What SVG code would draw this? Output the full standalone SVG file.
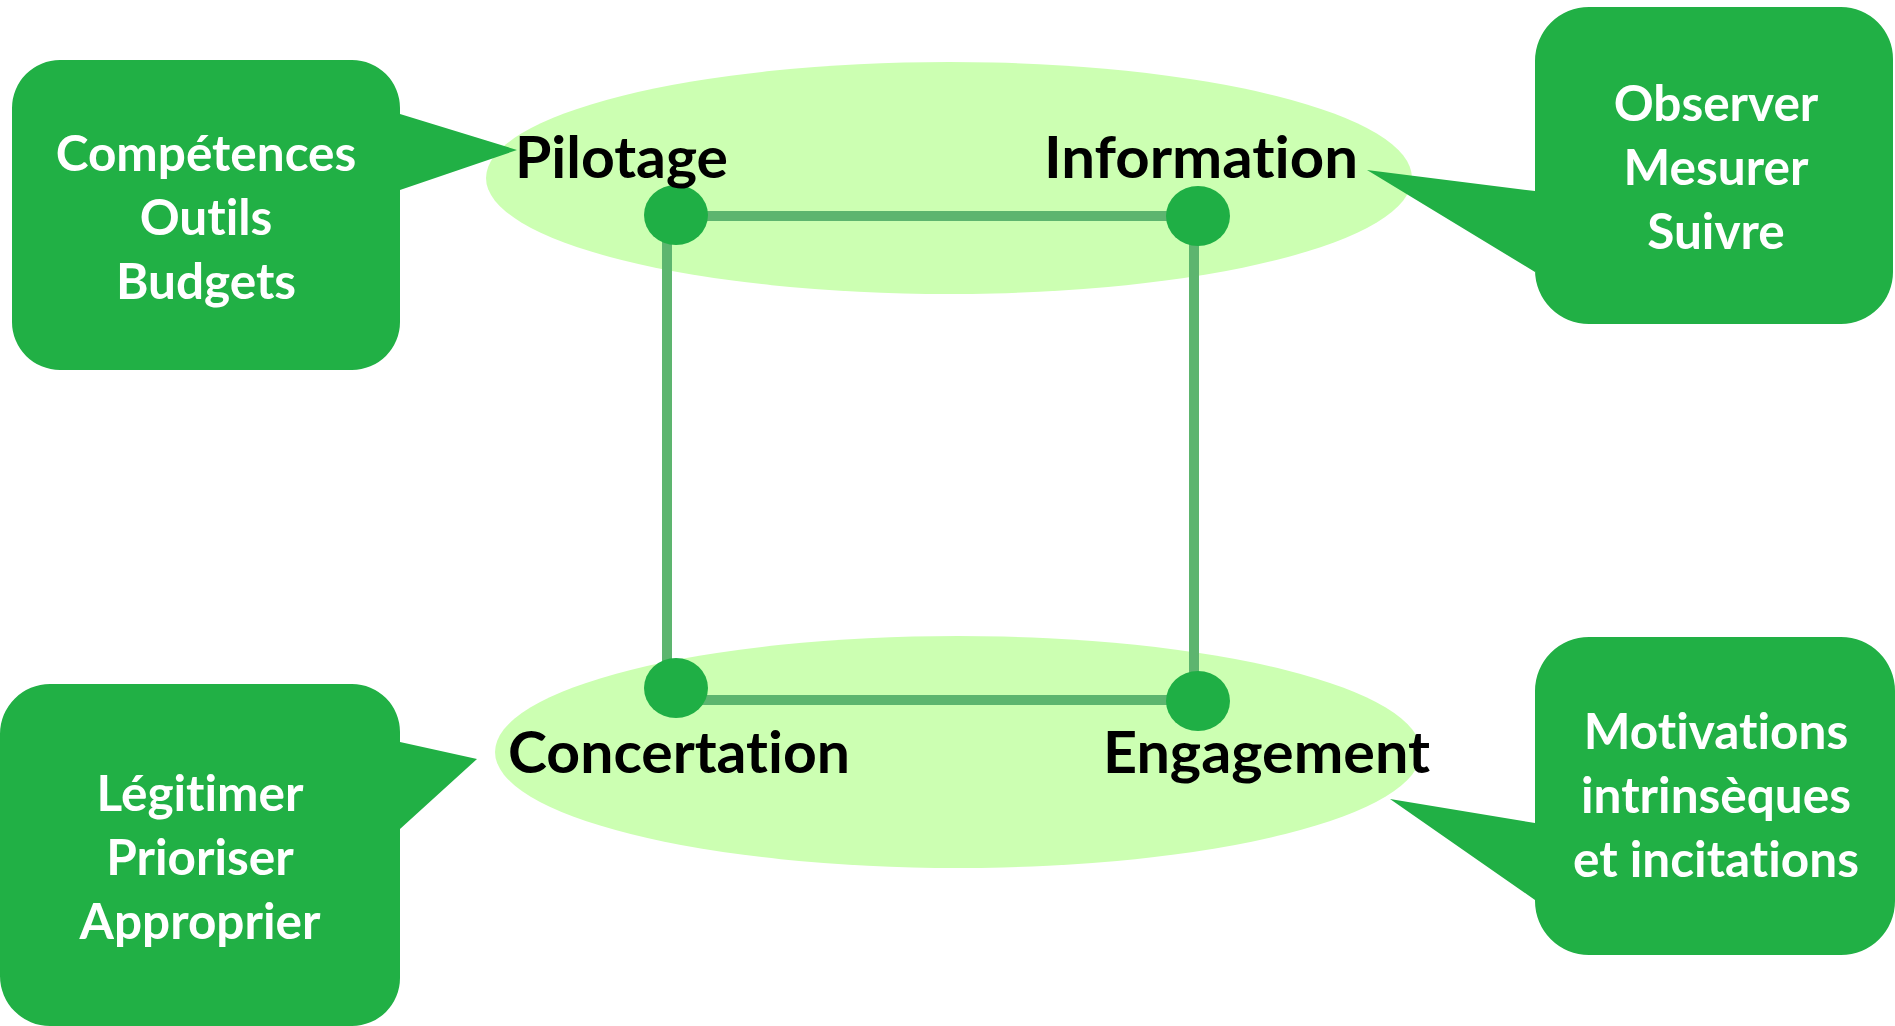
<svg xmlns="http://www.w3.org/2000/svg" width="1895" height="1026" viewBox="0 0 1895 1026">
<style>
.zone{fill:#ccffb2}
.box{fill:#21b045}
.btxt{font-family:Lato,"Open Sans",sans-serif;font-weight:bold;font-size:49.5px;fill:#ffffff;text-anchor:middle;font-variant-ligatures:none}
.lbl{font-family:Lato,"Open Sans",sans-serif;font-weight:bold;font-size:57px;fill:#000000;font-variant-ligatures:none}
.edge{stroke:#5db56f;stroke-width:10;fill:none}
.dot{fill:#1faf45}
</style>
<rect width="1895" height="1026" fill="#ffffff"/>
<g id="zones">
<ellipse class="zone" cx="949" cy="178" rx="463" ry="116"/>
<ellipse class="zone" cx="958" cy="752" rx="463" ry="116"/>
</g>
<g id="callout-tl">
<path class="box" d="M60,60 H352 A48,48 0 0 1 400,108 V114 L517,150 L400,190 V322 A48,48 0 0 1 352,370 H60 A48,48 0 0 1 12,322 V108 A48,48 0 0 1 60,60 Z"/>
<text class="btxt" x="206" y="171">Compétences</text>
<text class="btxt" x="206" y="235">Outils</text>
<text class="btxt" x="206" y="299">Budgets</text>
</g>
<g id="callout-tr">
<path class="box" d="M1589,7 H1841 A52,52 0 0 1 1893,59 V272 A52,52 0 0 1 1841,324 H1589 A54,54 0 0 1 1535,270 V272 L1367,170 L1535,191 V61 A54,54 0 0 1 1589,7 Z"/>
<text class="btxt" x="1716" y="121">Observer</text>
<text class="btxt" x="1716" y="185">Mesurer</text>
<text class="btxt" x="1716" y="249">Suivre</text>
</g>
<g id="callout-bl">
<path class="box" d="M50,684 H352 A48,48 0 0 1 400,732 V742 L477,759 L400,829 V978 A48,48 0 0 1 352,1026 H50 A50,50 0 0 1 0,976 V734 A50,50 0 0 1 50,684 Z"/>
<text class="btxt" x="200" y="811">Légitimer</text>
<text class="btxt" x="200" y="875">Prioriser</text>
<text class="btxt" x="200" y="939">Approprier</text>
</g>
<g id="callout-br">
<path class="box" d="M1589,637 H1841 A54,54 0 0 1 1895,691 V901 A54,54 0 0 1 1841,955 H1589 A54,54 0 0 1 1535,901 V900 L1390,799 L1535,823 V691 A54,54 0 0 1 1589,637 Z"/>
<text class="btxt" x="1716" y="749">Motivations</text>
<text class="btxt" x="1716" y="813">intrinsèques</text>
<text class="btxt" x="1716" y="877">et incitations</text>
</g>
<g id="connectors">
<line class="edge" x1="676" y1="216" x2="1198" y2="216"/>
<line class="edge" x1="667" y1="215" x2="667" y2="688"/>
<line class="edge" x1="1194" y1="216" x2="1194" y2="701"/>
<line class="edge" x1="676" y1="700" x2="1198" y2="700"/>
</g>
<g id="node-pilotage">
<ellipse class="dot" cx="676" cy="215" rx="32" ry="30"/>
<text class="lbl" x="515" y="178" textLength="213" lengthAdjust="spacingAndGlyphs">Pilotage</text>
</g>
<g id="node-information">
<ellipse class="dot" cx="1198" cy="216" rx="32" ry="30"/>
<text class="lbl" x="1044" y="178" textLength="314" lengthAdjust="spacingAndGlyphs">Information</text>
</g>
<g id="node-concertation">
<ellipse class="dot" cx="676" cy="688" rx="32" ry="30"/>
<text class="lbl" x="508" y="773" textLength="342" lengthAdjust="spacingAndGlyphs">Concertation</text>
</g>
<g id="node-engagement">
<ellipse class="dot" cx="1198" cy="701" rx="32" ry="30"/>
<text class="lbl" x="1103" y="773" textLength="327" lengthAdjust="spacingAndGlyphs">Engagement</text>
</g>
</svg>
